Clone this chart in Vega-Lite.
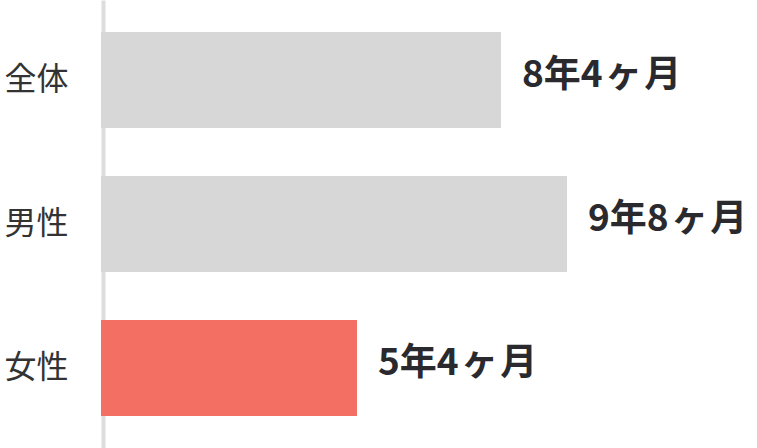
{
  "$schema": "https://vega.github.io/schema/vega-lite/v6.json",
  "width": 656,
  "height": 448,
  "autosize": {"type": "none"},
  "padding": {"left": 101, "top": 0, "right": 0, "bottom": 0},
  "background": "white",
  "config": {"view": {"stroke": null}},
  "data": {
    "values": [
      {"group": "全体", "months": 100, "label": "8年4\u200aヶ\u200a月", "highlight": "no"},
      {"group": "男性", "months": 116.5, "label": "9年8\u200aヶ\u200a月", "highlight": "no"},
      {"group": "女性", "months": 64, "label": "5年4\u200aヶ\u200a月", "highlight": "yes"}
    ]
  },
  "encoding": {
    "y": {
      "field": "group",
      "type": "nominal",
      "sort": null,
      "scale": {"paddingInner": 0.3333, "paddingOuter": 0.2222},
      "axis": {
        "title": null,
        "ticks": false,
        "tickSize": 0,
        "domainColor": "#dddddd",
        "domainWidth": 4,
        "offset": -2,
        "labelPadding": 35,
        "labelFont": "Noto Sans CJK JP",
        "labelFontSize": 32,
        "labelColor": "#333333",
        "labelAlign": "right"
      }
    },
    "x": {
      "field": "months",
      "type": "quantitative",
      "scale": {"domain": [0, 164]},
      "axis": null
    }
  },
  "layer": [
    {
      "mark": {"type": "bar"},
      "encoding": {
        "color": {
          "field": "highlight",
          "type": "nominal",
          "scale": {"domain": ["no", "yes"], "range": ["#d7d7d7", "#f36f63"]},
          "legend": null
        }
      }
    },
    {
      "mark": {
        "type": "text",
        "align": "left",
        "baseline": "middle",
        "dx": 21,
        "dy": -4,
        "font": "Noto Sans CJK JP",
        "fontSize": 37,
        "fontWeight": "bold",
        "color": "#2a2a2e"
      },
      "encoding": {"text": {"field": "label"}}
    }
  ]
}
